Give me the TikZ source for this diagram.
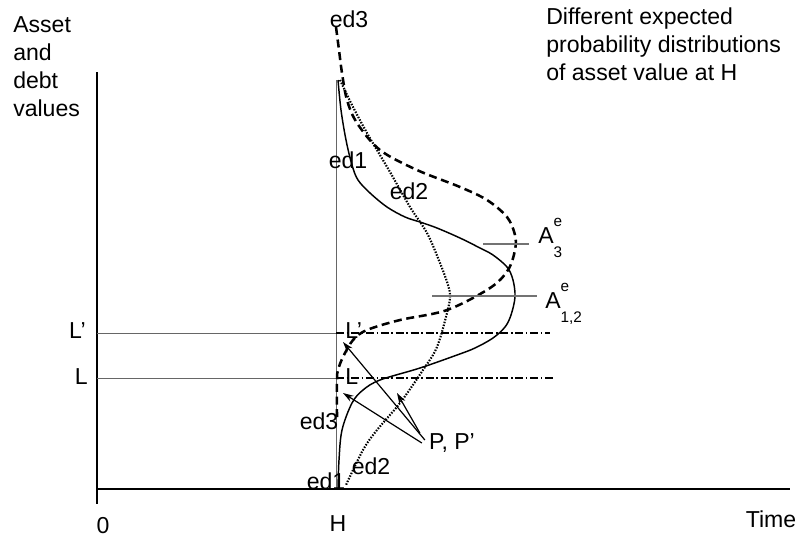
\documentclass[tikz,border=0pt]{standalone}
\usepackage{fontspec}
\setmainfont{Liberation Sans}
\usetikzlibrary{arrows.meta}
\newcommand{\supsub}[2]{\rlap{\fontsize{11.5}{13}\selectfont\raisebox{12.7pt}{#1}}{\fontsize{11.5}{13}\selectfont\raisebox{-10.5pt}{#2}}}
\begin{document}
\begin{tikzpicture}[x=0.75pt,y=-0.75pt,
  lbl/.style={font=\fontsize{17.3}{21}\selectfont, inner sep=0pt},
  axisline/.style={line width=1.5pt},
  grayline/.style={draw=black!60, line width=0.7pt},
  edone/.style={line width=1.1pt},
  edtwo/.style={line width=1.6pt, dash pattern=on 1.1pt off 1.1pt},
  edthree/.style={line width=1.9pt, dash pattern=on 6pt off 3.5pt},
  dashdot/.style={line width=1pt, dash pattern=on 6pt off 2pt on 1.2pt off 2pt},
  arr/.style={-{Stealth[length=8pt,width=5pt]}, line width=0.9pt},
  atick/.style={draw=black!55, line width=1.1pt}
]
\useasboundingbox (0,0) rectangle (799,537);
% axes
\coordinate (ytop) at (97,72);
\coordinate (ybot) at (97,504);
\coordinate (xl) at (97,489);
\coordinate (xend) at (790,489);
\draw[axisline] (ytop) -- (ybot);
\draw[axisline] (xl) -- (xend);
% H line
\coordinate (Htop) at (336,80);
\coordinate (Hbot) at (336,489);
\draw[grayline] (Htop) -- (Hbot);
% L and L' lines
\coordinate (Lpl) at (97,333);
\coordinate (LpH) at (336,333);
\coordinate (Lpr) at (550,333);
\coordinate (Ll) at (97,378);
\coordinate (LH) at (336,378);
\coordinate (Lr) at (555,378);
\draw[grayline] (Lpl) -- (LpH);
\draw[grayline] (Ll) -- (LH);
% curves
\draw[edone] plot[smooth, tension=0.55] coordinates {(338,80) (341,110) (346,140) (352,165) (358,180) (370,193) (387,207) (405,217) (420,222) (437,228) (460,238) (480,248) (493,255) (507,267) (513,280) (515,297) (511,315) (505,327) (493,338) (475,348) (457,355) (420,368) (380,380) (363,390) (352,403) (342,430) (339,460) (338,489)};
\draw[edtwo] plot[smooth, tension=0.55] coordinates {(340,80) (352,105) (367,133) (390,172) (410,207) (427,233) (440,263) (448,285) (450,297) (447,313) (437,347) (423,370) (400,403) (377,430) (363,450) (346,485)};
\draw[edthree] plot[smooth, tension=0.55] coordinates {(336,27) (339,50) (342,73) (347,100) (357,123) (380,150) (417,170) (460,187) (487,200) (507,217) (515,235) (515,250) (508,270) (490,288) (447,310) (400,320) (367,330) (353,340) (343,357) (338,370) (337,380) (337,417)};
\draw[dashdot] (LpH) -- (Lpr);
\draw[dashdot] (LH) -- (Lr);
% A ticks
\coordinate (a3l) at (483,244);
\coordinate (a3r) at (529,244);
\coordinate (a12l) at (432,296);
\coordinate (a12r) at (537,296);
\draw[atick] (a3l) -- (a3r);
\draw[atick] (a12l) -- (a12r);
% labels
\node[lbl, anchor=north west, align=left] (asset) at (13,16) {Asset\\and\\debt\\values};
\node[lbl, anchor=north west, align=left] (diff) at (546,8) {Different expected\\probability distributions\\of asset value at H};
\node[lbl] (time) at (771,519) {Time};
\node[lbl] (zero) at (103,526) {0};
\node[lbl] (H) at (338,524) {H};
\node[lbl, anchor=east] (Lpleft) at (86,331) {L’};
\node[lbl, anchor=east] (Lleft) at (88,377) {L};
\node[lbl, anchor=west] (Lpright) at (345,331) {L’};
\node[lbl, anchor=west] (Lright) at (345,377) {L};
\node[lbl] (ed3t) at (349,19) {ed3};
\node[lbl] (ed1t) at (348,160) {ed1};
\node[lbl] (ed2t) at (409,191) {ed2};
\node[lbl] (ed3b) at (319,421) {ed3};
\node[lbl] (ed1b) at (326,481) {ed1};
\node[lbl] (ed2b) at (371,466) {ed2};
\node[lbl, anchor=base west] (A3) at (538,243) {A\supsub{e}{3}};
\node[lbl, anchor=base west] (A12) at (545,308) {A\supsub{e}{1,2}};
\node[lbl] (pp) at (452,443) {P, P’};
% arrows
\coordinate (tipLp) at (343,342);
\coordinate (tipL) at (343,393);
\coordinate (tipC) at (397,393);
\draw[arr] ([shift={(-4,-3)}]pp.west) -- (tipLp);
\draw[arr] ([shift={(-7,0)}]pp.west) -- (tipL);
\draw[arr] ([shift={(-9,-10)}]pp.west) -- (tipC);
\end{tikzpicture}
\end{document}
